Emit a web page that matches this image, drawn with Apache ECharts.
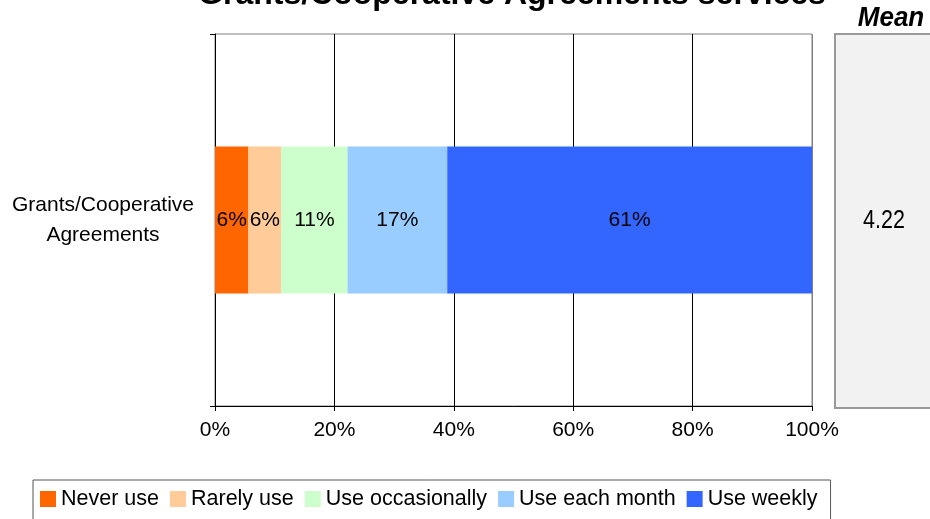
<!DOCTYPE html>
<html>
<head>
<meta charset="utf-8">
<script src="https://cdn.jsdelivr.net/npm/echarts@6/dist/echarts.min.js"></script>
<style>
  html, body { margin: 0; padding: 0; background: #fff; }
  #chart { width: 930px; height: 519px; }
</style>
</head>
<body>
<div id="chart"></div>
<script>
// Usage frequency of the Grants/Cooperative Agreements services (percent of respondents)
const categories = ['Grants/Cooperative\nAgreements'];
const seriesNames = ['Never use', 'Rarely use', 'Use occasionally', 'Use each month', 'Use weekly'];
const neverUse = [5.6];
const rarelyUse = [5.5];
const useOccasionally = [11.1];
const useEachMonth = [16.7];
const useWeekly = [61.1];
const meanScores = [4.22];
const xTicks = [0, 20, 40, 60, 80, 100];

const colors = ['#FF6600', '#FFCC99', '#CCFFCC', '#99CCFF', '#3366FF'];
const seriesData = [neverUse, rarelyUse, useOccasionally, useEachMonth, useWeekly];
const FONT = '"Liberation Sans", Arial, sans-serif';

const chart = echarts.init(document.getElementById('chart'), null, { renderer: 'canvas' });

const option = {
  animation: false,
  backgroundColor: '#ffffff',
  textStyle: { fontFamily: FONT },
  grid: {
    left: 215, right: 118, top: 34, bottom: 113,
    show: true, borderColor: '#808080', borderWidth: 1, backgroundColor: 'transparent'
  },
  legend: {
    data: seriesNames,
    left: 33, top: 480,
    orient: 'horizontal',
    icon: 'rect',
    itemWidth: 16, itemHeight: 16, itemGap: 11,
    padding: [8, 13, 20, 7],
    borderColor: '#555', borderWidth: 1,
    textStyle: { fontFamily: FONT, fontSize: 21.5, color: '#000' }
  },
  xAxis: {
    type: 'value',
    min: xTicks[0], max: xTicks[xTicks.length - 1], interval: xTicks[1] - xTicks[0],
    axisLine: { show: true, lineStyle: { color: '#000', width: 1 } },
    axisTick: { show: true, length: 5, lineStyle: { color: '#000' } },
    axisLabel: { formatter: '{value}%', fontFamily: FONT, fontSize: 21, color: '#000', margin: 14 },
    splitLine: { show: true, lineStyle: { color: ['#000', '#000', '#000', '#000', '#000', '#808080'], width: 1 } }
  },
  yAxis: {
    type: 'category',
    data: categories,
    boundaryGap: true,
    axisLine: { show: true, lineStyle: { color: '#000', width: 1 } },
    axisTick: { show: true, length: 5, lineStyle: { color: '#000' } },
    axisLabel: {
      fontFamily: FONT, fontSize: 21, color: '#000', align: 'center',
      margin: 112, lineHeight: 30, padding: [0, 0, 8, 0]
    }
  },
  series: seriesData.map((vals, i) => ({
    name: seriesNames[i],
    type: 'bar',
    stack: 'usage',
    data: vals,
    barWidth: '39.5%',
    itemStyle: { color: colors[i] },
    label: {
      show: true,
      position: 'inside',
      fontFamily: FONT, fontSize: 21, color: '#000',
      formatter: p => Math.round(p.value) + '%'
    },
    emphasis: { disabled: true }
  })),
  graphic: [
    {
      type: 'text', z: 10,
      x: 512, y: 11,
      style: {
        text: 'Grants/Cooperative Agreements services',
        fill: '#000', font: 'bold 32px ' + FONT, align: 'center', verticalAlign: 'bottom'
      }
    },
    {
      type: 'text', z: 10,
      x: 891, y: 18, scaleX: 0.93,
      style: {
        text: 'Mean',
        fill: '#000', font: 'italic bold 28px ' + FONT, align: 'center', verticalAlign: 'middle'
      }
    },
    {
      type: 'rect', z: 5,
      shape: { x: 835, y: 34, width: 110, height: 374 },
      style: { fill: '#F2F2F2', stroke: '#999999', lineWidth: 2 }
    },
    {
      type: 'text', z: 10,
      x: 884, y: 221, scaleX: 0.86,
      style: {
        text: meanScores[0].toFixed(2),
        fill: '#000', font: '25px ' + FONT, align: 'center', verticalAlign: 'middle'
      }
    }
  ]
};

chart.setOption(option);
</script>
</body>
</html>
